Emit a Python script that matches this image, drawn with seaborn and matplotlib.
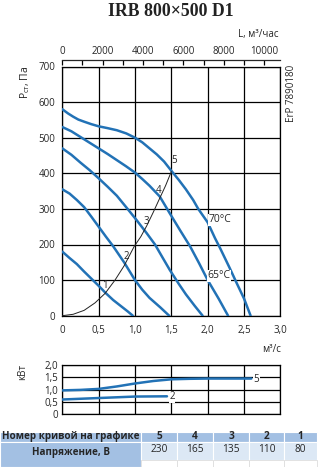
import numpy as np
import pandas as pd
import matplotlib
matplotlib.use("Agg")
import matplotlib.pyplot as plt
from matplotlib.patches import Rectangle
import seaborn as sns

# ---------------- data ----------------
title = "IRB 800×500 D1"

c1_x = [0, 0.1, 0.2, 0.3, 0.42, 0.5, 0.6, 0.7, 0.8, 0.9, 0.97]
c1_p = [180, 162, 145, 124, 100, 84, 63, 44, 28, 12, 0]
c2_x = [0, 0.1, 0.2, 0.3, 0.4, 0.5, 0.6, 0.7, 0.85, 1.0, 1.1, 1.2, 1.35, 1.47]
c2_p = [355, 343, 325, 305, 278, 250, 222, 195, 150, 100, 73, 50, 23, 0]
c3_x = [0, 0.125, 0.25, 0.375, 0.5, 0.625, 0.75, 0.89, 1.02, 1.16, 1.275, 1.38, 1.48, 1.6, 1.7, 1.82, 1.93]
c3_p = [470, 452, 430, 409, 386, 362, 337, 302, 269, 232, 200, 163, 128, 90, 60, 28, 0]
c4_x = [0, 0.125, 0.25, 0.375, 0.5, 0.625, 0.75, 0.875, 1.0, 1.1, 1.2, 1.34, 1.48, 1.62, 1.76, 1.88, 2.0, 2.15, 2.28]
c4_p = [530, 518, 502, 486, 470, 454, 437, 420, 402, 384, 365, 335, 287, 240, 194, 148, 100, 48, 0]
c5_x = [0, 0.08, 0.15, 0.22, 0.3, 0.4, 0.5, 0.62, 0.75, 0.88, 1.0, 1.1, 1.2, 1.3, 1.4, 1.5, 1.6, 1.7, 1.8, 1.87, 2.0, 2.1, 2.17, 2.3, 2.4, 2.5, 2.59]
c5_p = [580, 568, 559, 551, 545, 538, 532, 527, 521, 512, 500, 487, 470, 453, 433, 407, 382, 355, 325, 300, 262, 218, 190, 135, 91, 48, 0]

sys_x = [0, 0.15, 0.3, 0.45, 0.59, 0.725, 0.85, 0.99, 1.08, 1.16, 1.25, 1.34, 1.42, 1.5]
sys_p = [0, 4, 15, 36, 63, 100, 140, 195, 222, 252, 290, 330, 365, 405]

curve_names = ["1", "2", "3", "4", "5"]
curve_label_x = [0.59, 0.885, 1.15, 1.32, 1.535]
curve_label_p = [86, 166, 265, 353, 436]

pw5_x = [0, 0.25, 0.5, 0.75, 1.0, 1.25, 1.5, 1.75, 2.0, 2.3, 2.6]
pw5_kw = [0.97, 0.99, 1.03, 1.13, 1.25, 1.35, 1.42, 1.44, 1.45, 1.45, 1.45]
pw2_x = [0, 0.5, 1.0, 1.44]
pw2_kw = [0.6, 0.66, 0.72, 0.73]

x_ticks = [0, 0.5, 1.0, 1.5, 2.0, 2.5, 3.0]
x_tick_labels = ["0", "0,5", "1,0", "1,5", "2,0", "2,5", "3,0"]
y_ticks = [0, 100, 200, 300, 400, 500, 600, 700]
top_ticks = [0, 2000, 4000, 6000, 8000, 10000]
pw_ticks = [0, 0.5, 1.0, 1.5, 2.0]
pw_tick_labels = ["0", "0,5", "1,0", "1,5", "2,0"]

table_header = "Номер кривой на графике"
table_row_label = "Напряжение, В"
table_curves = ["5", "4", "3", "2", "1"]
table_voltages = ["230", "165", "135", "110", "80"]

# ---------------- style ----------------
sns.set_style("white")
plt.rcParams['font.family'] = ['Open Sans', 'DejaVu Sans']
BLUE = "#2272b6"
FS = 7.0

W, H = 319, 467
fig = plt.figure(figsize=(W / 100, H / 100), dpi=100)

def fx(px):
    return px / W

def fy(py):
    return 1 - py / H

# main axes
L, R, T, B = 62.3, 280.4, 66.5, 315.7
ax = fig.add_axes([fx(L), fy(B), fx(R - L), (B - T) / H])
ax.set_xlim(0, 3)
ax.set_ylim(0, 700)
ax.set_xticks(x_ticks)
ax.set_xticklabels(x_tick_labels)
ax.set_yticks(y_ticks)
ax.grid(True, color="black", lw=0.9)
ax.tick_params(length=0, labelsize=FS, pad=5)
ax.tick_params(axis="x", pad=7)
for s in ax.spines.values():
    s.set_color("black")
    s.set_linewidth(0.9)

for xs, ps in [(c1_x, c1_p), (c2_x, c2_p), (c3_x, c3_p), (c4_x, c4_p), (c5_x, c5_p)]:
    sns.lineplot(x=xs, y=ps, ax=ax, color=BLUE, lw=1.8, zorder=3)
sns.lineplot(x=sys_x, y=sys_p, ax=ax, color="#222222", lw=0.7, zorder=4)

for n, lx, lp in zip(curve_names, curve_label_x, curve_label_p):
    ax.text(lx, lp, n, fontsize=FS, ha="center", va="center", zorder=5)

ax.text(2.01, 269, "70°C", fontsize=FS + 0.5, ha="left", va="center",
        bbox=dict(facecolor="white", edgecolor="none", pad=0.3), zorder=5)
ax.text(2.0, 112, "65°C", fontsize=FS + 0.5, ha="left", va="center",
        bbox=dict(facecolor="white", edgecolor="none", pad=0.3), zorder=5)

# top axis in m3/h
ax2 = ax.twiny()
ax2.set_xlim(0, 3 * 3600)
ax2.set_xticks(top_ticks)
ax2.set_xticks(np.arange(0, 10001, 1000), minor=True)
ax2.tick_params(axis="x", which="both", direction="in", length=3.5, width=0.9,
                labelsize=FS, pad=2, color="black")
for k in ["left", "right", "bottom"]:
    ax2.spines[k].set_visible(False)
ax2.spines["top"].set_position(("outward", 4.7))
ax2.spines["top"].set_linewidth(0.9)
ax2.grid(False)

fig.text(fx(279), fy(34), "L, м³/час", fontsize=FS, ha="right", va="center")
fig.text(fx(281), fy(350), "м³/с", fontsize=FS, ha="right", va="center")
fig.text(fx(25), fy(82), "Р$_{\\mathregular{ст}}$, Па", fontsize=FS + 0.5,
         rotation=90, ha="center", va="center")
fig.text(fx(291), fy(65), "ErP 7890180", fontsize=FS, rotation=90,
         ha="center", va="top")
fig.text(fx(171), fy(11), title, fontsize=12.8, fontweight="bold",
         family=["Liberation Serif", "DejaVu Serif"], ha="center", va="center",
         color="#222222")

# power axes
PT, PB = 365.0, 414.3
ax3 = fig.add_axes([fx(L), fy(PB), fx(R - L), (PB - PT) / H])
ax3.set_xlim(0, 3)
ax3.set_ylim(0, 2)
ax3.set_xticks(x_ticks)
ax3.set_xticklabels([])
ax3.set_yticks(pw_ticks)
ax3.set_yticklabels(pw_tick_labels)
ax3.grid(True, color="black", lw=0.9)
ax3.tick_params(length=0, labelsize=FS, pad=3)
for s in ax3.spines.values():
    s.set_color("black")
    s.set_linewidth(0.9)
sns.lineplot(x=pw5_x, y=pw5_kw, ax=ax3, color=BLUE, lw=1.8, zorder=3)
sns.lineplot(x=pw2_x, y=pw2_kw, ax=ax3, color=BLUE, lw=1.8, zorder=3)
ax3.text(pw5_x[-1] + 0.07, pw5_kw[-1] - 0.03, "5", fontsize=FS, ha="center", va="center",
         bbox=dict(facecolor="white", edgecolor="none", pad=0.2), zorder=5)
ax3.text(pw2_x[-1] + 0.07, pw2_kw[-1] - 0.02, "2", fontsize=FS, ha="center", va="center",
         bbox=dict(facecolor="white", edgecolor="none", pad=0.2), zorder=5)
fig.text(fx(23), fy(372), "кВт", fontsize=FS, rotation=90, ha="center", va="center")

# table
tax = fig.add_axes([0, 0, 1, (H - 427) / H])
tax.set_xlim(0, W)
tax.set_ylim(H, 427)
tax.axis("off")
HEAD = "#a3c0e3"
LIGHT = "#dce8f5"
edges = [141, 177, 213, 249, 284, 317]
r1, r2, r3 = 431.5, 441.5, 459.5
tax.add_patch(Rectangle((0, r1), edges[0], r2 - r1, facecolor=HEAD, edgecolor="white", lw=0.8))
tax.add_patch(Rectangle((0, r2), edges[0], H - r2, facecolor=HEAD, edgecolor="white", lw=0.8))
tax.text(edges[0] / 2, (r1 + r2) / 2, table_header, fontsize=FS + 0.1, fontweight="bold",
         ha="center", va="center")
tax.text(edges[0] / 2, 453, table_row_label, fontsize=FS + 0.1, fontweight="bold",
         ha="center", va="center")
for i, (c, v) in enumerate(zip(table_curves, table_voltages)):
    x0, x1 = edges[i], edges[i + 1]
    tax.add_patch(Rectangle((x0, r1), x1 - x0, r2 - r1, facecolor=HEAD, edgecolor="white", lw=0.8))
    tax.add_patch(Rectangle((x0, r2), x1 - x0, r3 - r2, facecolor=LIGHT, edgecolor="white", lw=0.8))
    tax.add_patch(Rectangle((x0, r3), x1 - x0, H - r3 + 2, facecolor="white", edgecolor="#dddddd", lw=0.6))
    tax.text((x0 + x1) / 2, (r1 + r2) / 2, c, fontsize=FS + 0.3, fontweight="bold",
             ha="center", va="center")
    tax.text((x0 + x1) / 2, (r2 + r3) / 2 - 1.5, v, fontsize=FS + 0.3, ha="center", va="center")

fig.savefig("out.png", dpi=100)
